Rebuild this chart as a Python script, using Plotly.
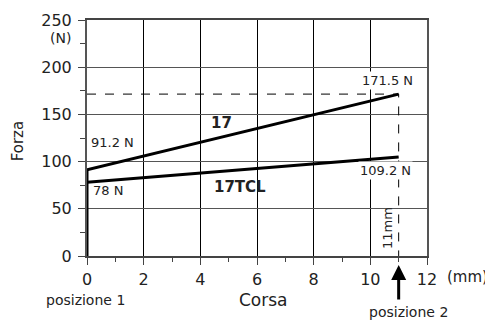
import plotly.graph_objects as go

# data
corsa = [0, 11]
forza_17 = [91.2, 171.5]
forza_17tcl = [78, 105]
x_ticks = [0, 2, 4, 6, 8, 10, 12]
y_ticks = [0, 50, 100, 150, 200, 250]

FONT = "DejaVu Sans"
TXT = "#222"

fig = go.Figure()

# dashed guides at the end of the stroke
fig.add_trace(go.Scatter(x=[0, 11, 11], y=[171.5, 171.5, 0], mode="lines",
                         line=dict(color="black", width=1, dash="dash"), hoverinfo="skip"))
# vertical jump at position 1
fig.add_trace(go.Scatter(x=[0, 0], y=[0, forza_17[0]], mode="lines",
                         line=dict(color="black", width=3), hoverinfo="skip"))
fig.add_trace(go.Scatter(x=corsa, y=forza_17, mode="lines", name="17",
                         line=dict(color="black", width=3)))
fig.add_trace(go.Scatter(x=corsa, y=forza_17tcl, mode="lines", name="17TCL",
                         line=dict(color="black", width=3)))

# value labels
labels = [
    (0.08, 120, "91.2 N", "left", False, 13),
    (0.15, 69, "78 N", "left", False, 13),
    (4.75, 141, "<b>17</b>", "center", False, 15),
    (5.4, 73, "<b>17TCL</b>", "center", False, 15),
    (10.6, 186, "171.5 N", "center", True, 13),
    (10.55, 91, "109.2 N", "center", True, 13),
]
for x, y, t, al, bg, sz in labels:
    fig.add_annotation(x=x, y=y, text=t, showarrow=False, xanchor=al, yanchor="middle",
                       font=dict(family=FONT, size=sz, color=TXT),
                       bgcolor="white" if bg else None, borderpad=1)

fig.add_annotation(x=10.6, y=30, text="11mm", textangle=-90, showarrow=False,
                   font=dict(family=FONT, size=13, color=TXT))

# texts outside the plot (paper coords, explicit anchors)
outside = [
    (-0.079, 0.925, "(N)", 14, 0),
    (1.118, -0.089, "(mm)", 15, 0),
    (-0.203, 0.49, "Forza", 15, -90),
    (0.518, -0.186, "Corsa", 17, 0),
    (-0.005, -0.186, "posizione 1", 14, 0),
    (0.945, -0.237, "posizione 2", 14, 0),
]
for x, y, t, sz, ang in outside:
    fig.add_annotation(x=x, y=y, xref="paper", yref="paper", text=t, textangle=ang,
                       xanchor="center", yanchor="middle", showarrow=False,
                       font=dict(family=FONT, size=sz, color=TXT))

fig.add_annotation(x=11, y=-0.038, yref="paper", ax=0, ay=36, text="",
                   showarrow=True, arrowhead=2, arrowsize=1, arrowwidth=3, arrowcolor="black")

# page body has an 8px margin, so the figure is shrunk by that much
fig.update_layout(
    width=485, height=312,
    margin=dict(l=79, r=66, t=12, b=64),
    paper_bgcolor="white", plot_bgcolor="white",
    showlegend=False,
    font=dict(family=FONT, size=16, color=TXT),
    xaxis=dict(range=[0, 12], tickvals=x_ticks, showgrid=True, gridcolor="black", gridwidth=1,
               showline=True, linecolor="#444", linewidth=1.5, mirror=True,
               ticks="outside", ticklen=7, tickcolor="#444", zeroline=False, automargin=False,
               minor=dict(dtick=1, ticks="outside", ticklen=4, tickcolor="#444", showgrid=False),
               tickfont=dict(size=16), ticklabelstandoff=1),
    yaxis=dict(range=[0, 250], tickvals=y_ticks, showgrid=True, gridcolor="#555", gridwidth=1,
               showline=True, linecolor="#555", linewidth=2, mirror=True,
               ticks="outside", ticklen=7, tickcolor="#444", zeroline=False, automargin=False,
               minor=dict(dtick=25, ticks="outside", ticklen=5, tickcolor="#444", showgrid=False),
               tickfont=dict(size=16), ticklabelstandoff=3),
)

fig.write_html("out.html")
